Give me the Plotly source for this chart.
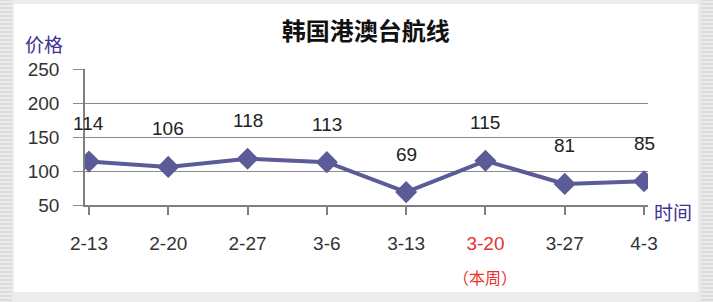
import plotly.graph_objects as go

title = "韩国港澳台航线"
dates = ["2-13", "2-20", "2-27", "3-6", "3-13", "3-20", "3-27", "4-3"]
prices = [114, 106, 118, 113, 69, 115, 81, 85]
current_week = "3-20"
current_note = "（本周）"
y_ticks = [50, 100, 150, 200, 250]
y_label = "价格"
x_label = "时间"

LINE = "#5b5b97"
FONT = "Liberation Sans, Arial, sans-serif"
CJK = "Noto Sans CJK SC, sans-serif"

ticktext = [
    f"<span style='color:#e8322e'>{d}</span>" if d == current_week else d
    for d in dates
]

fig = go.Figure()
fig.add_trace(go.Scatter(
    x=list(range(len(dates))), y=prices, mode="lines+markers",
    line=dict(color=LINE, width=4),
    marker=dict(symbol="diamond", size=17, color=LINE),
    hoverinfo="skip", showlegend=False,
))

annotations = []
for i, v in enumerate(prices):
    annotations.append(dict(
        x=i, y=v, xref="x", yref="y", text=str(v), showarrow=False,
        yshift=38, yanchor="middle",
        font=dict(family=FONT, size=19, color="#222222"),
    ))

ci = dates.index(current_week)
annotations.append(dict(
    x=ci, y=0, xref="x", yref="paper", yshift=-72, yanchor="middle",
    text=current_note, showarrow=False,
    font=dict(family=CJK, size=16, color="#e8322e"),
))
annotations.append(dict(
    x=-0.110, y=1.191, xref="paper", yref="paper", text=y_label,
    showarrow=False, xanchor="left", yanchor="middle",
    font=dict(family=CJK, size=19, color="#3d3290"),
))
annotations.append(dict(
    x=1.007, y=-0.05, xref="paper", yref="paper", text=x_label,
    showarrow=False, xanchor="left", yanchor="middle",
    font=dict(family=CJK, size=19, color="#3d3290"),
))

shapes = [dict(
    type="rect", xref="paper", yref="paper",
    x0=-0.1261, x1=1.0888, y0=-0.64, y1=1.478,
    fillcolor="white", line=dict(width=0), layer="below",
)]
# striped side borders
for k in range(0, 302, 4):
    for (xa, xb) in [(0, 12), (701, 713)]:
        shapes.append(dict(
            type="line", xref="paper", yref="paper",
            x0=(xa - 85) / 563, x1=(xb - 85) / 563,
            y0=(205 - k) / 136, y1=(205 - k) / 136,
            line=dict(color="#cbcbcb", width=1), layer="below",
        ))

fig.update_layout(
    width=713, height=302,
    margin=dict(l=85, r=65, t=69, b=97),
    paper_bgcolor="#ececec", plot_bgcolor="white",
    title=dict(text=f"<b>{title}</b>", x=0.513, xanchor="center",
               y=0.895, yanchor="middle",
               font=dict(family=CJK, size=24, color="#111111")),
    xaxis=dict(
        range=[-0.05, 7.05], tickmode="array",
        tickvals=list(range(len(dates))), ticktext=ticktext,
        showgrid=False, zeroline=False, showline=True,
        linecolor="#7f7f7f", linewidth=1.5,
        ticks="outside", ticklen=8, tickcolor="#7f7f7f", tickwidth=1.5,
        tickfont=dict(family=FONT, size=19, color="#333333"),
        ticklabelstandoff=12,
    ),
    yaxis=dict(
        range=[50, 250], tickvals=y_ticks,
        showgrid=True, gridcolor="#8a8a8a", gridwidth=1.2,
        zeroline=False, showline=True,
        linecolor="#7f7f7f", linewidth=1.5,
        ticks="outside", ticklen=10, tickcolor="#8a8a8a", tickwidth=1.2,
        tickfont=dict(family=FONT, size=19, color="#333333"),
        ticklabelstandoff=10,
    ),
    annotations=annotations, shapes=shapes,
)

fig.write_html(
    "out.html",
    config={"displayModeBar": False},
    post_script="document.body.style.margin='0';document.body.style.overflow='hidden';",
)
